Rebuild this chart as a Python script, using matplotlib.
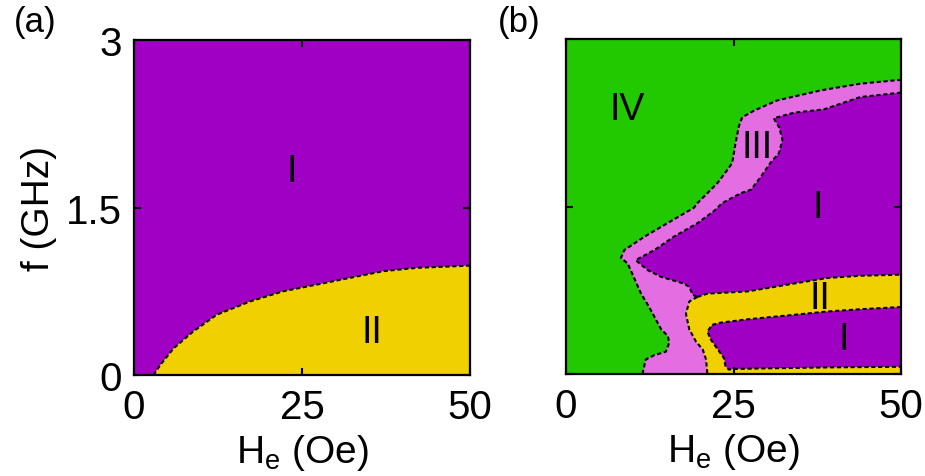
import matplotlib
matplotlib.use("Agg")
import matplotlib.pyplot as plt

plt.rcParams["font.family"] = ["Liberation Sans", "DejaVu Sans"]
plt.rcParams["mathtext.fontset"] = "custom"
plt.rcParams["mathtext.rm"] = "Liberation Sans"
plt.rcParams["mathtext.it"] = "Liberation Sans:italic"

# ---------------------------------------------------------------------------
# Phase boundaries (H_e in Oe, f in GHz)
# ---------------------------------------------------------------------------

# panel (a): I / II boundary
a_x = [2.9, 3.9, 5.9, 8.8, 12.3, 17.3, 22.2, 27.2, 32.1, 37.1, 42.1, 50.0]
a_y = [0.0, 0.09, 0.24, 0.39, 0.54, 0.66, 0.75, 0.81, 0.87, 0.93, 0.96, 0.98]

# panel (b): IV / III boundary (bottom -> top right)
iv_x = [11.4, 11.9, 13.2, 14.9, 15.4, 15.2, 14.2, 12.4, 11.2, 9.2, 8.2, 8.7,
        11.7, 15.1, 19.1, 19.6, 22.6, 24.1, 24.8, 25.3, 25.8, 26.3, 28.1,
        31.5, 38.0, 43.9, 50.0]
iv_y = [0.0, 0.13, 0.17, 0.20, 0.28, 0.34, 0.40, 0.60, 0.72, 0.99, 1.04, 1.11,
        1.23, 1.35, 1.49, 1.53, 1.71, 1.83, 1.89, 2.07, 2.22, 2.30, 2.36,
        2.45, 2.54, 2.60, 2.635]

# III / I (upper) boundary (top right -> junction)
iii_x = [50.0, 43.9, 38.5, 34.0, 31.0, 31.8, 32.3, 31.8, 30.5, 29.0, 27.6,
         26.1, 23.3, 22.1, 19.6, 16.1, 13.2, 10.4, 12.2, 14.2, 17.6, 18.4,
         18.9, 19.6]
iii_y = [2.52, 2.48, 2.37, 2.34, 2.29, 2.21, 2.10, 1.98, 1.89, 1.76, 1.65,
         1.62, 1.53, 1.46, 1.35, 1.23, 1.11, 1.02, 0.93, 0.87, 0.81, 0.78,
         0.71, 0.69]

# III / II boundary (junction -> bottom)
ii_left_x = [19.6, 18.4, 17.9, 18.4, 19.4, 20.4, 20.9, 21.1]
ii_left_y = [0.69, 0.65, 0.54, 0.40, 0.29, 0.22, 0.13, 0.0]

# I (upper) / II boundary (junction -> right edge)
ii_top_x = [19.6, 21.1, 27.1, 30.1, 34.0, 39.0, 43.9, 50.0]
ii_top_y = [0.69, 0.72, 0.74, 0.77, 0.81, 0.86, 0.88, 0.89]

# II / I (lower) boundary, closed along the thin yellow strip at the bottom
low_x = [50.0, 43.9, 39.0, 34.0, 27.1, 23.1, 21.8, 21.1, 21.6, 22.3, 23.6,
         23.8, 24.3, 25.1, 29.1, 40.0, 50.0]
low_y = [0.60, 0.58, 0.56, 0.53, 0.49, 0.46, 0.44, 0.38, 0.31, 0.25, 0.14,
         0.07, 0.04, 0.045, 0.05, 0.06, 0.065]

labels_a = [("I", 23.5, 1.83), ("II", 35.4, 0.385)]
labels_b = [("IV", 9.2, 2.37), ("III", 28.5, 2.03), ("I", 37.6, 1.50),
            ("II", 37.9, 0.68), ("I", 41.5, 0.31)]

PURPLE = "#a000c3"
YELLOW = "#f0d000"
GREEN = "#22c800"
PINK = "#e26ee2"

DASH = dict(color="black", lw=1.5, ls=(0, (2, 1.3)), zorder=5)


def style_axes(ax, ylabels=True):
    ax.set_xlim(0, 50)
    ax.set_ylim(0, 3)
    ax.set_xticks([0, 25, 50])
    ax.set_yticks([0, 1.5, 3])
    ax.set_yticklabels(["0", "1.5", "3"] if ylabels else [])
    ax.tick_params(direction="in", length=5, width=1.5, labelsize=29,
                   top=True, right=True, pad=9)
    for sp in ax.spines.values():
        sp.set_linewidth(1.6)
        sp.set_zorder(10)
    ax.set_xlabel("H$_\\mathrm{e}$ (Oe)", fontsize=28, labelpad=5)


fig = plt.figure(figsize=(9.25, 4.77), dpi=100)
ax1 = fig.add_axes([0.1449, 0.2117, 0.3632, 0.7023])
ax2 = fig.add_axes([0.6119, 0.2138, 0.3622, 0.7023])

# ---- panel (a)
ax1.set_facecolor(PURPLE)
ax1.fill(a_x + [50, a_x[0]], a_y + [0, 0], color=YELLOW, lw=0)
ax1.plot(a_x, a_y, **DASH)
for txt, x, y in labels_a:
    ax1.text(x, y, txt, fontsize=27, ha="center", va="center")
style_axes(ax1)
ax1.set_ylabel("f (GHz)", fontsize=28, labelpad=6)

# ---- panel (b)
ax2.set_facecolor(GREEN)
ax2.fill(iv_x + [50, iv_x[0]], iv_y + [0, 0], color=PINK, lw=0)
ax2.fill(ii_left_x[::-1] + ii_top_x + [50],
         ii_left_y[::-1] + ii_top_y + [0], color=YELLOW, lw=0)
ax2.fill(iii_x + ii_top_x, iii_y + ii_top_y, color=PURPLE, lw=0)
ax2.fill(low_x, low_y, color=PURPLE, lw=0)
for bx, by in [(iv_x, iv_y), (iii_x, iii_y), (ii_left_x, ii_left_y),
               (ii_top_x, ii_top_y), (low_x, low_y)]:
    ax2.plot(bx, by, **DASH)
for txt, x, y in labels_b:
    ax2.text(x, y, txt, fontsize=27, ha="center", va="center")
style_axes(ax2, ylabels=False)

fig.text(0.015, 0.953, "(a)", fontsize=25, va="center", ha="left")
fig.text(0.538, 0.953, "(b)", fontsize=25, va="center", ha="left")

fig.savefig("out.png", dpi=100)
